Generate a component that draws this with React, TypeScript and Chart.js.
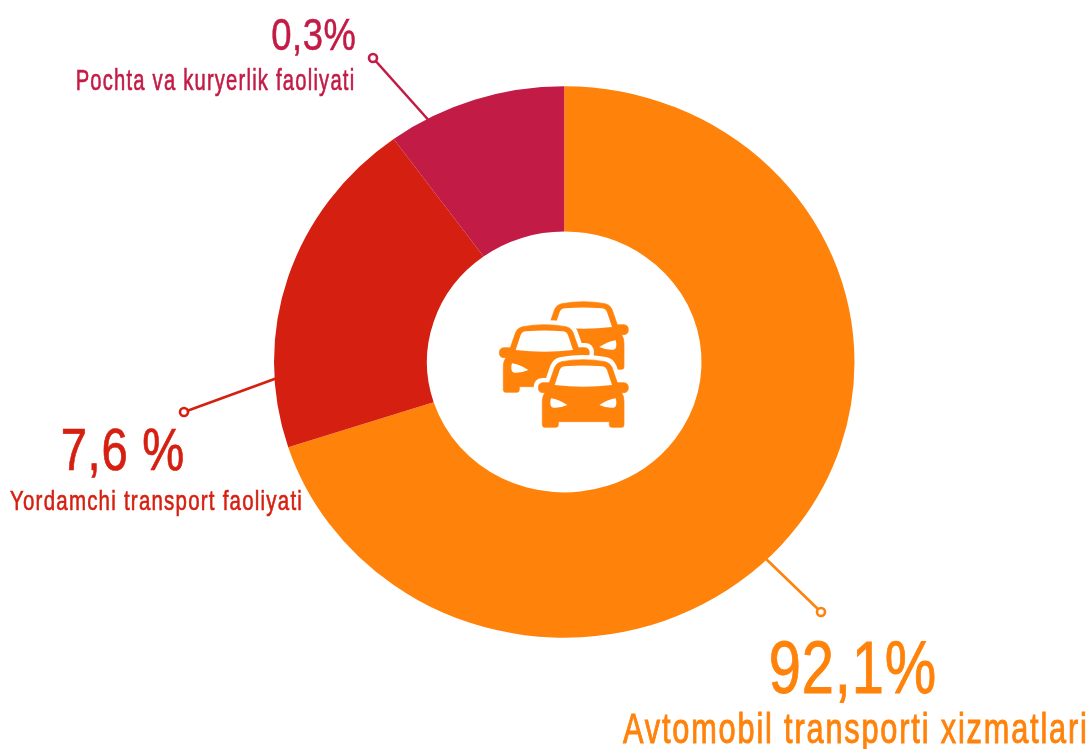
import React, { useEffect, useRef } from "react";
import { Chart, registerables } from "chart.js";

Chart.register(...registerables);

const categories = [
  "Avtomobil transporti xizmatlari",
  "Yordamchi transport faoliyati",
  "Pochta va kuryerlik faoliyati",
];
const sliceShares = [70, 20, 10];
const percentLabels = ["92,1%", "7,6 %", "0,3%"];
const sliceColors = ["#FF820A", "#D52011", "#C21B46"];

const FONT = '"Liberation Sans Narrow", "Liberation Sans", sans-serif';
const Y_SQUASH = 0.95;

// Layout of the annotations, in page pixels: [x0, x1, baseline, font size]
const percentBoxes = [
  [771, 935, 693, 75],
  [63, 183, 470, 60],
  [272, 355, 50, 45],
];
const nameBoxes = [
  [623, 1085, 743, 43],
  [10, 301, 510, 28],
  [77, 353, 90, 30],
];
const leaders = [
  [764, 557, 821, 612],
  [280, 377, 184, 412],
  [432, 124, 373, 58],
];

const CAR_BODY =
  "M245 215 Q310 203 375 215 Q390 218 396 232 L412 278 L432 278 Q445 279 445 293 Q445 307 432 308 L425 308 Q432 318 432 335 L432 404 Q432 412 424 412 L396 412 Q388 412 388 404 L388 395 L235 395 L235 404 Q235 412 227 412 L195 412 Q187 412 187 404 L187 335 Q187 318 195 308 L188 308 Q175 307 175 293 Q175 279 188 278 L208 278 L224 232 Q230 218 245 215 Z";
const CAR_HOLES =
  "M224 285 Q310 296 396 285 L381 240 Q377 230 365 229 Q310 224 255 229 Q243 230 239 240 Z " +
  "M214 325 Q240 330 262 345 Q240 355 220 353 Q211 352 211 340 Q211 327 214 325 Z " +
  "M406 325 Q380 330 358 345 Q380 355 400 353 Q409 352 409 340 Q409 327 406 325 Z";

function drawCar(ctx: CanvasRenderingContext2D, dx: number, dy: number, clipBottom?: number) {
  const body = new Path2D(CAR_BODY);
  const full = new Path2D(CAR_BODY + " " + CAR_HOLES);
  ctx.save();
  ctx.translate(480, 290);
  ctx.scale(1 / 3, 1 / 3);
  ctx.translate(dx, dy);
  if (clipBottom !== undefined) {
    ctx.beginPath();
    ctx.rect(0, 0, 600, clipBottom);
    ctx.clip();
  }
  ctx.fillStyle = "#fff";
  ctx.strokeStyle = "#fff";
  ctx.lineWidth = 28;
  ctx.lineJoin = "round";
  ctx.stroke(body);
  ctx.fill(body);
  ctx.fillStyle = sliceColors[0];
  ctx.strokeStyle = sliceColors[0];
  ctx.lineWidth = 2;
  ctx.fill(full, "evenodd");
  ctx.stroke(body);
  ctx.restore();
}

function fitText(
  ctx: CanvasRenderingContext2D,
  text: string,
  box: number[],
  color: string,
  spacing: number,
  weight: number,
) {
  const [x0, x1, baseline, size] = box;
  ctx.save();
  ctx.font = `${size}px ${FONT}`;
  (ctx as any).letterSpacing = `${size * spacing}px`;
  ctx.textAlign = "left";
  ctx.textBaseline = "alphabetic";
  const m = ctx.measureText(text);
  const ink = m.actualBoundingBoxLeft + m.actualBoundingBoxRight;
  ctx.translate(x0, baseline);
  ctx.scale((x1 - x0) / ink, 1);
  ctx.fillStyle = color;
  ctx.strokeStyle = color;
  ctx.lineWidth = size * weight;
  ctx.fillText(text, m.actualBoundingBoxLeft, 0);
  ctx.strokeText(text, m.actualBoundingBoxLeft, 0);
  ctx.restore();
}

const annotationPlugin = {
  id: "annotations",
  beforeDatasetsDraw(chart: any) {
    const { ctx, chartArea } = chart;
    leaders.forEach((l, i) => {
      ctx.save();
      ctx.strokeStyle = sliceColors[i];
      ctx.lineWidth = 2.6;
      ctx.beginPath();
      ctx.moveTo(l[0], l[1]);
      ctx.lineTo(l[2], l[3]);
      ctx.stroke();
      ctx.beginPath();
      ctx.arc(l[2], l[3], 4, 0, Math.PI * 2);
      ctx.fillStyle = "#fff";
      ctx.fill();
      ctx.stroke();
      ctx.restore();
    });
    const cy = (chartArea.top + chartArea.bottom) / 2;
    ctx.save();
    ctx.translate(0, cy);
    ctx.scale(1, Y_SQUASH);
    ctx.translate(0, -cy);
  },
  afterDatasetsDraw(chart: any) {
    const { ctx } = chart;
    ctx.restore();
    drawCar(ctx, 0, -174, 240 + 174);
    drawCar(ctx, -117, -105);
    drawCar(ctx, 0, 0);
    percentLabels.forEach((t, i) => fitText(ctx, t, percentBoxes[i], sliceColors[i], 0.015, 0.012));
    categories.forEach((t, i) => fitText(ctx, t, nameBoxes[i], sliceColors[i], 0.06, 0.022));
  },
};

export default function App() {
  const ref = useRef<HTMLCanvasElement>(null);
  useEffect(() => {
    document.body.style.margin = "0";
    const chart = new Chart(ref.current as HTMLCanvasElement, {
      type: "doughnut",
      data: {
        labels: categories,
        datasets: [
          {
            data: sliceShares,
            backgroundColor: sliceColors,
            borderWidth: 0,
          },
        ],
      },
      options: {
        responsive: false,
        animation: false,
        cutout: "47.3%",
        layout: { padding: { left: 274, right: 234.5, top: 71.5, bottom: 96.5 } },
        plugins: { legend: { display: false }, tooltip: { enabled: false } },
      },
      plugins: [annotationPlugin],
    } as any);
    return () => chart.destroy();
  }, []);
  return <canvas ref={ref} width={1089} height={749} style={{ display: "block" }} />;
}
